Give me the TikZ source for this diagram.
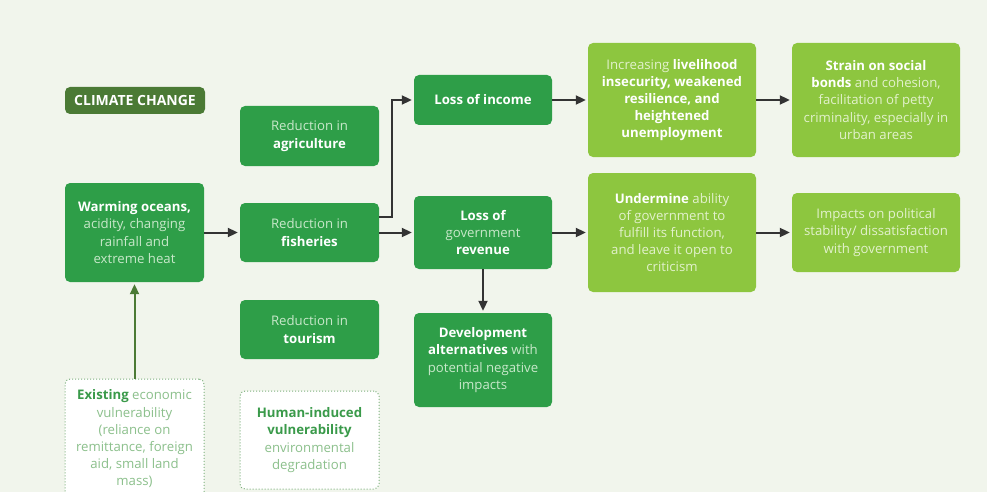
\documentclass[tikz,border=0pt]{standalone}
\usepackage{fontspec}
\setmainfont{Open Sans}
\usetikzlibrary{arrows.meta}
\definecolor{bgc}{HTML}{F1F5EC}
\definecolor{dkgreen}{HTML}{2E9E48}
\definecolor{ltgreen}{HTML}{8DC63F}
\definecolor{olive}{HTML}{4B7A35}
\definecolor{dktxt}{HTML}{C8E8CA}
\definecolor{lttxt}{HTML}{E2F1CC}
\definecolor{dotgreen}{HTML}{7DB07D}
\definecolor{dotbold}{HTML}{3A9A4A}
\definecolor{dottxt}{HTML}{8CC08C}
\definecolor{arrowc}{HTML}{333333}
\newcommand\hb[1]{\textcolor{white}{\bfseries #1}}
\newcommand\gb[1]{\textcolor{dotbold}{\bfseries #1}}
\tikzset{
  basebox/.style={rounded corners=5pt, align=center, inner sep=0pt,
    font=\fontsize{13.2}{17.2}\selectfont},
  dbox/.style={basebox, fill=dkgreen, text=dktxt},
  lbox/.style={basebox, fill=ltgreen, text=lttxt},
  dotbox/.style={basebox, fill=white, draw=dotgreen, dotted, line width=1pt, text=dottxt},
  arr/.style={draw=arrowc, line width=2pt, shorten >=2pt, -{Triangle[length=10pt,width=9pt]}},
}
\begin{document}
\begin{tikzpicture}[x=1pt,y=-1pt]
\fill[bgc] (0,0) rectangle (987,492);
\clip (0,0) rectangle (987,492);

\node[basebox, fill=olive, text=white, minimum width=140pt, minimum height=27pt,
  font=\fontsize{14}{16}\selectfont\bfseries] (climate) at (135,100.5) {CLIMATE CHANGE};

\node[dbox, minimum width=139pt, minimum height=99pt] (warming) at (134.5,232.5)
  {\hb{Warming oceans,}\\acidity, changing\\rainfall and\\extreme heat};
\node[dbox, minimum width=139pt, minimum height=60pt] (agri) at (309.5,136)
  {Reduction in\\\hb{agriculture}};
\node[dbox, minimum width=139pt, minimum height=59pt] (fish) at (309.5,232.5)
  {Reduction in\\\hb{fisheries}};
\node[dbox, minimum width=139pt, minimum height=59pt] (tour) at (309.5,329.5)
  {Reduction in\\\hb{tourism}};

\node[dotbox, minimum width=139pt, minimum height=120pt] (exist) at (134.5,439)
  {\gb{Existing} economic\\vulnerability\\(reliance on\\remittance, foreign\\aid, small land\\mass)};
\node[dotbox, minimum width=139pt, minimum height=98pt] (human) at (309.5,440)
  {\gb{Human-induced}\\\gb{vulnerability}\\environmental\\degradation};

\node[dbox, minimum width=138pt, minimum height=50pt] (income) at (483,100)
  {\hb{Loss of income}};
\node[dbox, minimum width=138pt, minimum height=73pt] (rev) at (483,232.5)
  {\hb{Loss of}\\government\\\hb{revenue}};
\node[dbox, minimum width=138pt, minimum height=94pt] (dev) at (483,360)
  {\hb{Development}\\\hb{alternatives} with\\potential negative\\impacts};

\node[lbox, minimum width=168pt, minimum height=114pt] (incr) at (672,100)
  {Increasing \hb{livelihood}\\\hb{insecurity, weakened}\\\hb{resilience, and}\\\hb{heightened}\\\hb{unemployment}};
\node[lbox, minimum width=168pt, minimum height=114pt] (strain) at (876,100)
  {\hb{Strain on social}\\\hb{bonds} and cohesion,\\facilitation of petty\\criminality, especially in\\urban areas};
\node[lbox, minimum width=168pt, minimum height=119pt] (under) at (672,232.5)
  {\hb{Undermine} ability\\of government to\\fulfill its function,\\and leave it open to\\criticism};
\node[lbox, minimum width=168pt, minimum height=79pt] (impact) at (876,232.5)
  {Impacts on political\\stability/ dissatisfaction\\with government};

\draw[arr] (warming.east) -- (fish.west);
\draw[arr] (fish.east) -- (rev.west);
\draw[arr] ([yshift=16pt]fish.east) -| ([xshift=-22pt]income.west) -- (income.west);
\draw[arr] (rev.south) -- (dev.north);
\draw[arr] (income.east) -- (incr.west);
\draw[arr] (incr.east) -- (strain.west);
\draw[arr] (rev.east) -- (under.west);
\draw[arr] (under.east) -- (impact.west);
\draw[arr, draw=olive] (exist.north) -- (warming.south);
\end{tikzpicture}
\end{document}
